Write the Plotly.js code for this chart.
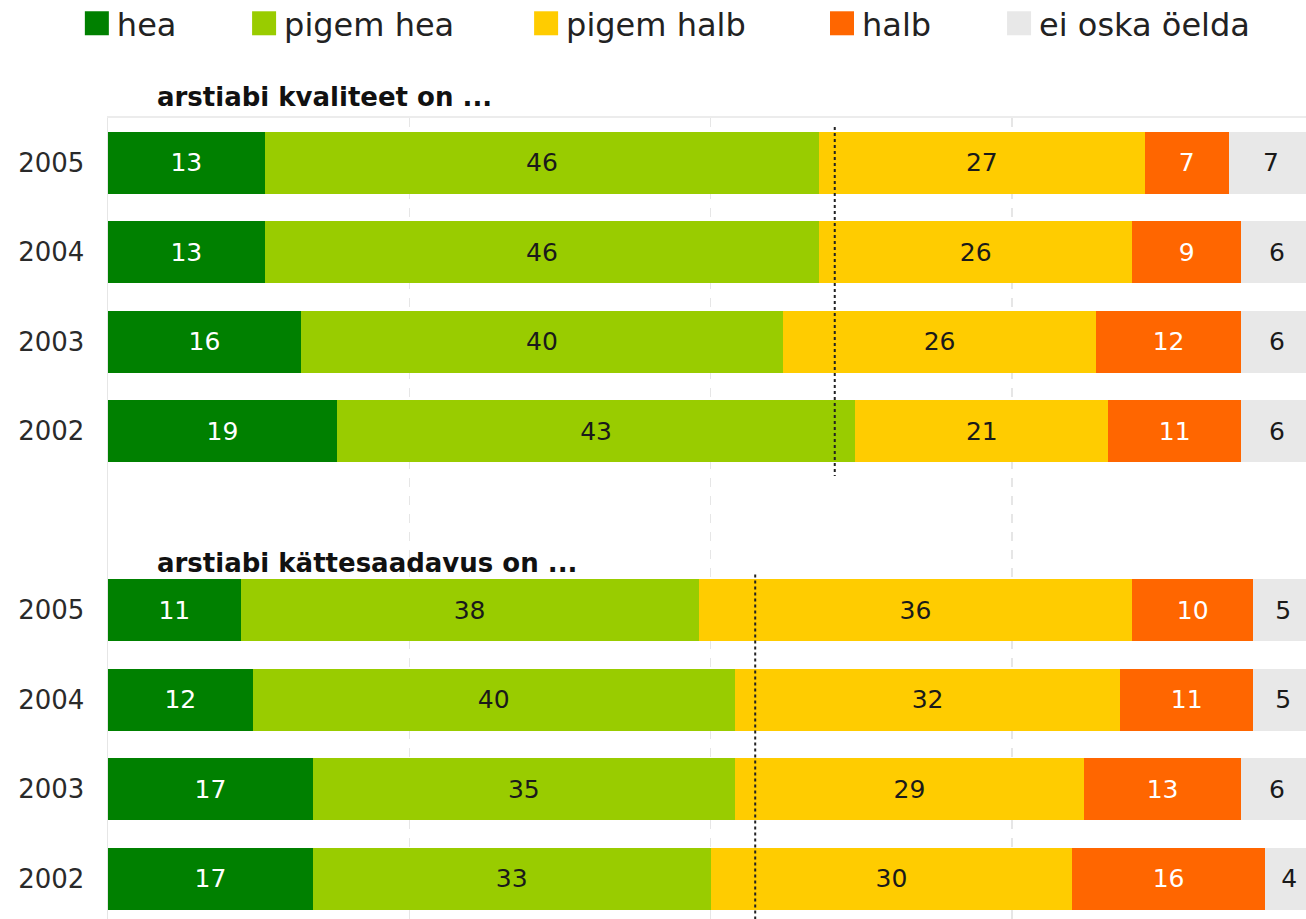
<!DOCTYPE html>
<html>
<head>
<meta charset="utf-8">
<script src="https://cdn.plot.ly/plotly-3.0.1.min.js"></script>
<style>html,body{margin:0;padding:0;background:#fff;}#chart{width:1306px;height:919px;}</style>
</head>
<body>
<div id="chart"></div>
<script>
// ---- data ----
const years = ["2005", "2004", "2003", "2002"];
const groupTitles = ["arstiabi kvaliteet on ...", "arstiabi kättesaadavus on ..."];
const categories = ["hea", "pigem hea", "pigem halb", "halb", "ei oska öelda"];

// arstiabi kvaliteet (rows: 2005, 2004, 2003, 2002)
const qualityHea       = [13, 13, 16, 19];
const qualityPigemHea  = [46, 46, 40, 43];
const qualityPigemHalb = [27, 26, 26, 21];
const qualityHalb      = [7, 9, 12, 11];
const qualityEiOska    = [7, 6, 6, 6];

// arstiabi kättesaadavus (rows: 2005, 2004, 2003, 2002)
const accessHea       = [11, 12, 17, 17];
const accessPigemHea  = [38, 40, 35, 33];
const accessPigemHalb = [36, 32, 29, 30];
const accessHalb      = [10, 11, 13, 16];
const accessEiOska    = [5, 5, 6, 4];

// dotted reference line per group
const groupReference = [60.3, 53.7];

// ---- styles ----
const colors = ["#008000", "#99cc00", "#ffcc00", "#ff6600", "#e8e8e8"];
const textColors = ["#ffffff", "#1a1a1a", "#1a1a1a", "#ffffff", "#1a1a1a"];
const FONT = "DejaVu Sans, Verdana, sans-serif";

const qualitySeries = [qualityHea, qualityPigemHea, qualityPigemHalb, qualityHalb, qualityEiOska];
const accessSeries = [accessHea, accessPigemHea, accessPigemHalb, accessHalb, accessEiOska];

// row positions: group g, year i -> g*(n+1)+i (one empty slot between groups)
const slot = years.length + 1;
const rowPos = [];
const rowText = [];
[0, 1].forEach(g => years.forEach((yr, i) => { rowPos.push(g * slot + i); rowText.push(yr); }));

const legendX = [-0.026, 0.1136, 0.349, 0.596, 0.7438];

const traces = categories.map((name, k) => {
  const vals = qualitySeries[k].concat(accessSeries[k]);
  return {
    type: "bar",
    orientation: "h",
    name: name,
    x: vals,
    y: rowPos,
    text: vals.map(String),
    textposition: "inside",
    insidetextanchor: "middle",
    textangle: 0,
    constraintext: "none",
    textfont: {family: FONT, size: 25, color: textColors[k]},
    marker: {color: colors[k], line: {width: 0}},
    hoverinfo: "skip",
    legend: k === 0 ? "legend" : "legend" + (k + 1)
  };
});

const shapes = groupReference.map((v, g) => ({
  type: "line", xref: "x", yref: "y",
  x0: v, x1: v, y0: g * slot - 0.4, y1: g * slot + years.length - 0.5,
  line: {color: "#222", width: 2, dash: "dot"}, layer: "above"
}));

const annotations = [
  {text: "<b>" + groupTitles[0] + "</b>", xref: "paper", yref: "paper", x: 0.039, y: 1.0262,
   xanchor: "left", yanchor: "middle", showarrow: false, font: {family: FONT, size: 26, color: "#111"}},
  {text: "<b>" + groupTitles[1] + "</b>", xref: "paper", yref: "paper", x: 0.039, y: 0.4444,
   xanchor: "left", yanchor: "middle", showarrow: false, font: {family: FONT, size: 26, color: "#111"}}
];

const layout = {
  width: 1306, height: 919,
  margin: {l: 108, r: 0, t: 118, b: 0, pad: 0, autoexpand: false},
  paper_bgcolor: "#ffffff", plot_bgcolor: "#ffffff",
  barmode: "stack", bargap: 0.31,
  font: {family: FONT, color: "#222"},
  xaxis: {
    range: [0, 99.4], side: "top", showticklabels: false, ticks: "",
    showgrid: true, dtick: 25, tick0: 0, gridcolor: "#e6e6e6", griddash: "dash", gridwidth: 1.5,
    zeroline: false, showline: true, linecolor: "#ececec", linewidth: 2, fixedrange: true
  },
  yaxis: {
    range: [8.45, -0.5], tickmode: "array", tickvals: rowPos, ticktext: rowText,
    tickfont: {family: FONT, size: 26, color: "#2a2a2a"}, ticks: "", ticklabelstandoff: 17,
    showgrid: false, zeroline: false, showline: true, linecolor: "#e6e6e6", linewidth: 1.5, fixedrange: true
  },
  shapes: shapes,
  annotations: annotations,
  showlegend: true
};
categories.forEach((c, k) => {
  layout[k === 0 ? "legend" : "legend" + (k + 1)] = {
    orientation: "h", x: legendX[k], xanchor: "left", y: 1.118, yanchor: "middle",
    font: {family: FONT, size: 32, color: "#222"}, bgcolor: "rgba(0,0,0,0)", borderwidth: 0,
    itemclick: false, itemdoubleclick: false
  };
});

Plotly.newPlot("chart", traces, layout, {displayModeBar: false, staticPlot: true}).then(gd => {
  // enlarge the legend swatches to the reference's 24px square keys (keep Plotly's own translate)
  gd.querySelectorAll(".legendpoints path").forEach(p => {
    p.setAttribute("d", "M12,12H-12V-12H12Z");
  });
});
</script>
</body>
</html>
